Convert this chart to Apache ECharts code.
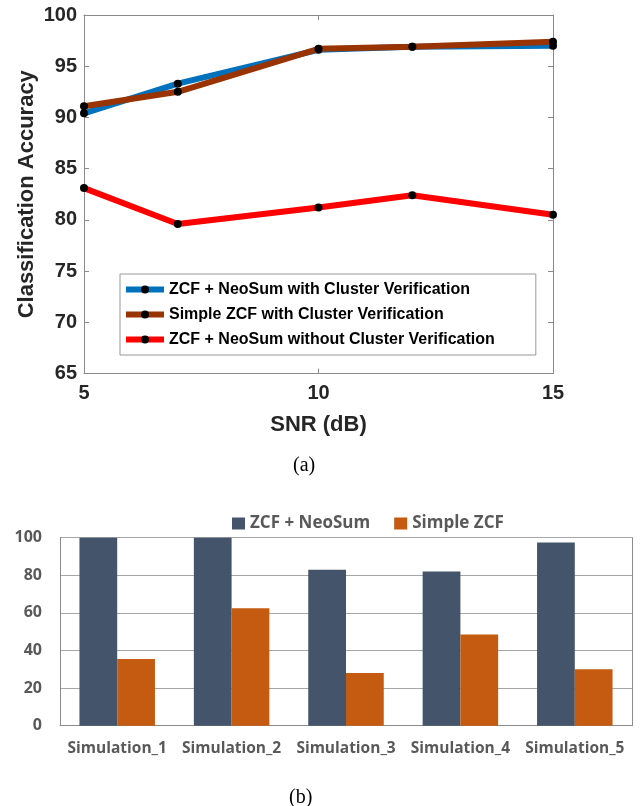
<!DOCTYPE html>
<html>
<head>
<meta charset="utf-8">
<script src="https://cdn.jsdelivr.net/npm/echarts@6/dist/echarts.min.js"></script>
<style>
  html, body { margin: 0; padding: 0; background: #fff; }
  #chart { width: 640px; height: 806px; }
</style>
</head>
<body>
<div id="chart"></div>
<script>
// (a) accuracy versus SNR
const snrValues = [5, 7, 10, 12, 15];
const accNeoSumCV = [90.4, 93.3, 96.6, 96.9, 97.0];
const accSimpleCV = [91.1, 92.5, 96.7, 96.9, 97.4];
const accNeoSumNoCV = [83.1, 79.6, 81.2, 82.4, 80.5];
const lineNames = [
  'ZCF + NeoSum with Cluster Verification',
  'Simple ZCF with Cluster Verification',
  'ZCF + NeoSum without Cluster Verification'
];

// (b) per-simulation comparison
const simCategories = ['Simulation_1', 'Simulation_2', 'Simulation_3', 'Simulation_4', 'Simulation_5'];
const barNeoSum = [100, 100, 83, 82, 97.5];
const barSimple = [35.5, 62.5, 28, 48.5, 30];
const barNames = ['ZCF + NeoSum', 'Simple ZCF'];

const pair = (xs, ys) => xs.map((x, i) => [x, ys[i]]);

const arial = '"Liberation Sans", Arial, sans-serif';
const sans = '"Open Sans", sans-serif';
const axisGray = '#8a8a8a';

const chart = echarts.init(document.getElementById('chart'), null, { renderer: 'canvas' });

const lineSeries = (name, data, color, z) => ({
  type: 'line',
  name: name,
  data: data,
  xAxisIndex: 0,
  yAxisIndex: 0,
  symbol: 'circle',
  symbolSize: 8,
  z: z,
  lineStyle: { color: color, width: 6 },
  itemStyle: { color: '#000' },
  emphasis: { disabled: true },
  animation: false
});

chart.setOption({
  animation: false,
  grid: [
    { left: 84, top: 15, width: 469, height: 358.5 },
    { left: 60, top: 537.7, width: 572, height: 188 }
  ],
  xAxis: [
    {
      gridIndex: 0, type: 'value', min: 5, max: 15, interval: 5,
      name: 'SNR (dB)', nameLocation: 'middle', nameGap: 40,
      nameTextStyle: { fontFamily: arial, fontWeight: 'bold', fontSize: 22, color: '#262626' },
      axisLine: { onZero: false, lineStyle: { color: axisGray, width: 1 } },
      axisTick: { inside: true, length: 5, lineStyle: { color: axisGray } },
      axisLabel: { fontFamily: arial, fontWeight: 'bold', fontSize: 20, color: '#262626', margin: 10 },
      splitLine: { show: false }
    },
    {
      gridIndex: 0, type: 'value', min: 5, max: 15, interval: 5, position: 'top',
      axisLine: { onZero: false, lineStyle: { color: axisGray, width: 1 } },
      axisTick: { inside: true, length: 5, lineStyle: { color: axisGray } },
      axisLabel: { show: false },
      splitLine: { show: false }
    },
    {
      gridIndex: 1, type: 'category', data: simCategories,
      axisLine: { lineStyle: { color: '#8c8c8c' } },
      axisTick: { show: false },
      axisLabel: { interval: 0, fontFamily: sans, fontWeight: 'bold', fontSize: 15.5, color: '#595959', margin: 15 }
    }
  ],
  yAxis: [
    {
      gridIndex: 0, type: 'value', min: 65, max: 100, interval: 5,
      name: 'Classification Accuracy', nameLocation: 'middle', nameGap: 46,
      nameMoveOverlap: false,
      nameTextStyle: { fontFamily: arial, fontWeight: 'bold', fontSize: 22, color: '#262626' },
      axisLine: { show: true, onZero: false, lineStyle: { color: axisGray, width: 1 } },
      axisTick: { show: true, inside: true, length: 5, lineStyle: { color: axisGray } },
      axisLabel: { fontFamily: arial, fontWeight: 'bold', fontSize: 20, color: '#262626', margin: 7 },
      splitLine: { show: false }
    },
    {
      gridIndex: 0, type: 'value', min: 65, max: 100, interval: 5, position: 'right',
      axisLine: { show: true, onZero: false, lineStyle: { color: axisGray, width: 1 } },
      axisTick: { show: true, inside: true, length: 5, lineStyle: { color: axisGray } },
      axisLabel: { show: false },
      splitLine: { show: false }
    },
    {
      gridIndex: 1, type: 'value', min: 0, max: 100, interval: 20,
      axisLine: { show: true, lineStyle: { color: '#8c8c8c' } },
      axisTick: { show: false },
      axisLabel: { fontFamily: sans, fontWeight: 'bold', fontSize: 16, color: '#595959', margin: 18 },
      splitLine: { lineStyle: { color: '#a6a6a6', width: 1 } }
    },
    {
      gridIndex: 1, type: 'value', min: 0, max: 100, interval: 20, position: 'right',
      axisLine: { show: true, lineStyle: { color: '#8c8c8c' } },
      axisTick: { show: false },
      axisLabel: { show: false },
      splitLine: { show: false }
    }
  ],
  legend: [
    {
      data: lineNames,
      orient: 'vertical',
      left: 120, top: 274,
      padding: [6, 41, 6, 3],
      itemGap: 6,
      itemWidth: 38,
      itemHeight: 10,
      lineStyle: { width: 6 },
      backgroundColor: '#fff',
      borderColor: '#999',
      borderWidth: 1,
      borderRadius: 0,
      selectedMode: false,
      textStyle: { fontFamily: arial, fontWeight: 'bold', fontSize: 16, color: '#000', lineHeight: 19 }
    },
    {
      data: barNames,
      left: 227, top: 510,
      itemWidth: 13, itemHeight: 12,
      itemGap: 24,
      icon: 'rect',
      selectedMode: false,
      textStyle: { fontFamily: sans, fontWeight: 'bold', fontSize: 17, color: '#595959' }
    }
  ],
  series: [
    lineSeries(lineNames[0], pair(snrValues, accNeoSumCV), '#0072BD', 2),
    lineSeries(lineNames[1], pair(snrValues, accSimpleCV), '#993300', 3),
    lineSeries(lineNames[2], pair(snrValues, accNeoSumNoCV), '#FF0000', 4),
    {
      type: 'bar', name: barNames[0], data: barNeoSum,
      xAxisIndex: 2, yAxisIndex: 2,
      barGap: '0%', barCategoryGap: '34%',
      itemStyle: { color: '#44546A' }
    },
    {
      type: 'bar', name: barNames[1], data: barSimple,
      xAxisIndex: 2, yAxisIndex: 2,
      barGap: '0%', barCategoryGap: '34%',
      itemStyle: { color: '#C55A11' }
    }
  ],
  graphic: [
    {
      type: 'text', left: 293, top: 456,
      style: { text: '(a)', font: '20px "Liberation Serif", "Times New Roman", serif', fill: '#000' }
    },
    {
      type: 'text', left: 289, top: 788,
      style: { text: '(b)', font: '20px "Liberation Serif", "Times New Roman", serif', fill: '#000' }
    }
  ]
});
</script>
</body>
</html>
